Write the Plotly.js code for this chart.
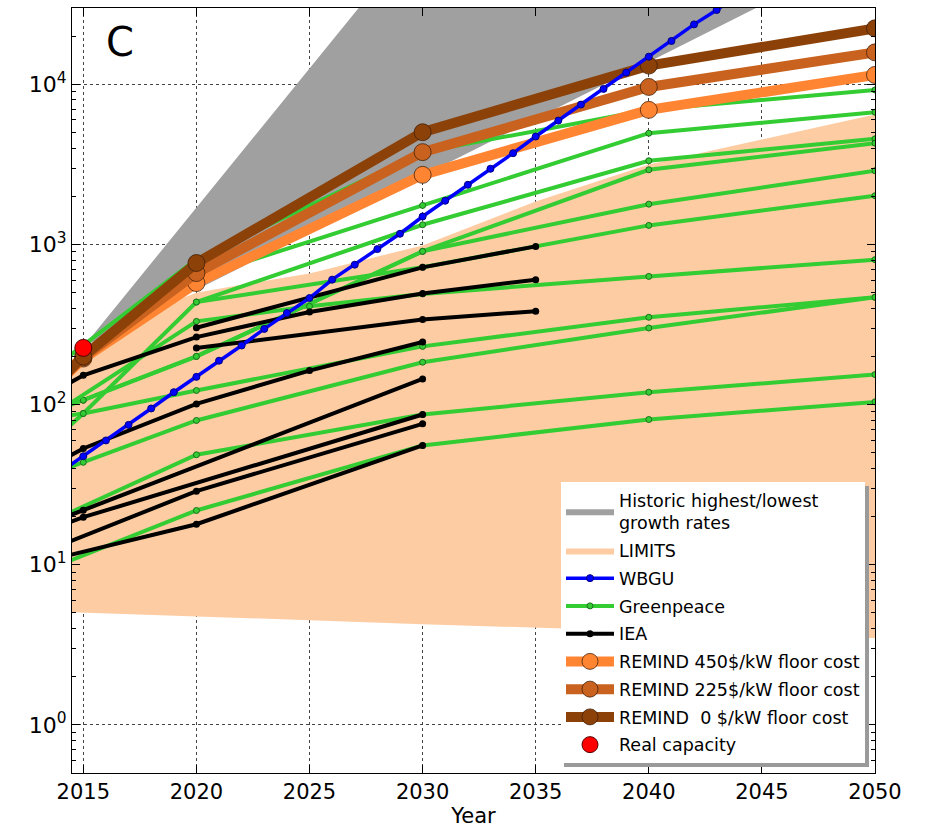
<!DOCTYPE html>
<html><head><meta charset="utf-8">
<script src="https://cdn.plot.ly/plotly-3.0.1.min.js"></script>
<style>html,body{margin:0;padding:0;background:#fff}#chart{width:930px;height:828px}</style>
</head><body><div id="chart"></div>
<script>
// ---------------- data ----------------
const histYears = [2015, 2030, 2050];
const histValues = [230, 93000, 71000];

const limitsYears = [2010, 2015, 2018, 2020, 2022, 2025, 2030, 2035, 2040, 2045, 2050];
const limitsUpper = [150, 200, 390, 500, 560, 660, 987, 1857, 3160, 4530, 6480];
const limitsLower = [5.3, 5.0, 4.85, 4.74, 4.65, 4.5, 4.25, 4.03, 3.85, 3.65, 3.48];

const wbguYears = [2014,2015,2016,2017,2018,2019,2020,2021,2022,2023,2024,2025,2026,2027,2028,2029,2030,2031,2032,2033,2034,2035,2036,2037,2038,2039,2040,2041,2042,2043,2044];
const wbguValues = [38,47.6,59.7,74.7,94.6,119.5,149,188,234,297,373,463,603,748,936,1167,1496,1875,2360,2970,3718,4725,5942,7480,9375,11850,14900,18670,23700,29150,36800];

const gp1Years = [2010, 2020, 2030, 2040, 2050];        const gp1 = [68, 810, 3775, 6934, 9230];
const gp2Years = [2010, 2020, 2030, 2040, 2050];        const gp2 = [60, 620, 1754, 4955, 6700];
const gp3Years = [2010, 2015, 2020, 2030, 2040, 2050];  const gp3 = [20, 88, 437, 1328, 3333, 4570];
const gp4Years = [2020, 2030, 2040, 2050];              const gp4 = [437, 720, 1316, 2015];
const gp5Years = [2010, 2015, 2020, 2030, 2040, 2050];  const gp5 = [57, 106.5, 200, 906, 2930, 4295];
const gp6Years = [2015, 2020, 2030, 2040, 2050];        const gp6 = [106.5, 200, 906, 1786, 2887];
const gp7Years = [2010, 2020, 2025, 2030, 2040, 2050];  const gp7 = [40, 331, 411, 491, 632, 804];
const gp8Years = [2010, 2015, 2020, 2030, 2040, 2050];  const gp8 = [70, 88, 122.5, 231, 351, 468];
const gp9Years = [2010, 2015, 2020, 2030, 2040, 2050];  const gp9 = [24, 43.6, 79.6, 184, 301, 468];
const gp10Years = [2010, 2020, 2030, 2040, 2050];       const gp10 = [11, 48.6, 86.7, 119.5, 154];
const gp11Years = [2010, 2020, 2030, 2040, 2050];       const gp11 = [6, 21.8, 55.6, 80.7, 104];

const iea1Years = [2010, 2015, 2020, 2025, 2030, 2035]; const iea1 = [61, 152.5, 264, 379, 494, 603];
const iea2Years = [2020, 2030, 2035];                   const iea2 = [302, 720, 973];
const iea3Years = [2020, 2030, 2035];                   const iea3 = [226, 340, 383];
const iea4Years = [2010, 2015, 2020, 2025, 2030];       const iea4 = [22, 53.2, 101, 163, 246];
const iea5Years = [2010, 2015, 2030];                   const iea5 = [11.8, 21.9, 144.6];
const iea6Years = [2010, 2015, 2030];                   const iea6 = [11, 19.8, 86.7];
const iea7Years = [2010, 2020, 2030];                   const iea7 = [7.9, 28.8, 75.8];
const iea8Years = [2010, 2020, 2030];                   const iea8 = [8.1, 17.9, 55.6];

const remindYears = [2010, 2015, 2020, 2030, 2040, 2050];
const remind450 = [40, 194, 574, 2723, 6934, 11460];
const remind225 = [40, 197, 663, 3775, 9640, 15850];
const remind0   = [40, 200, 766, 5025, 13100, 22400];

const realYears = [2015];
const realValues = [226];

const xTicks = [2015, 2020, 2025, 2030, 2035, 2040, 2045, 2050];
const yTicks = [1, 10, 100, 1000, 10000];
const yTickText = ['10<sup>0</sup>', '10<sup>1</sup>', '10<sup>2</sup>', '10<sup>3</sup>', '10<sup>4</sup>'];

// ---------------- traces ----------------
const FONT = 'DejaVu Sans, Arial, sans-serif';
const traces = [];

traces.push({
  x: histYears.concat([histYears[0]]), y: histValues.concat([histValues[0]]),
  type: 'scatter', mode: 'lines', fill: 'toself', fillcolor: '#A0A0A0',
  line: {width: 0, color: '#A0A0A0'}, name: 'Historic highest/lowest<br>growth rates',
  legendgroup: 'hist', legendrank: 1, hoverinfo: 'skip'
});
traces.push({
  x: limitsYears.concat(limitsYears.slice().reverse()),
  y: limitsUpper.concat(limitsLower.slice().reverse()),
  type: 'scatter', mode: 'lines', fill: 'toself', fillcolor: '#FDCCA2',
  line: {width: 0, color: '#FDCCA2'}, name: 'LIMITS', legendgroup: 'limits', legendrank: 2, hoverinfo: 'skip'
});

const gpSets = [[gp1Years,gp1],[gp2Years,gp2],[gp3Years,gp3],[gp4Years,gp4],[gp5Years,gp5],[gp6Years,gp6],
  [gp7Years,gp7],[gp8Years,gp8],[gp9Years,gp9],[gp10Years,gp10],[gp11Years,gp11]];
gpSets.forEach((s, i) => traces.push({
  x: s[0], y: s[1], type: 'scatter', mode: 'lines+markers', name: 'Greenpeace',
  legendgroup: 'gp', showlegend: i === 0, legendrank: 4,
  line: {color: '#33CC33', width: 4},
  marker: {size: 6, color: '#33CC33', line: {color: '#1E6E1E', width: 1}}
}));

const ieaSets = [[iea1Years,iea1],[iea2Years,iea2],[iea3Years,iea3],[iea4Years,iea4],
  [iea5Years,iea5],[iea6Years,iea6],[iea7Years,iea7],[iea8Years,iea8]];
ieaSets.forEach((s, i) => traces.push({
  x: s[0], y: s[1], type: 'scatter', mode: 'lines+markers', name: 'IEA',
  legendgroup: 'iea', showlegend: i === 0, legendrank: 5,
  line: {color: '#000000', width: 4},
  marker: {size: 7, color: '#000000'}
}));

const remindSets = [
  [remind450, '#FF8533', 'REMIND 450$/kW floor cost', 6, 'r450'],
  [remind225, '#C8621E', 'REMIND 225$/kW floor cost', 7, 'r225'],
  [remind0, '#8B4108', 'REMIND  0 $/kW floor cost', 8, 'r0']
];
remindSets.forEach(s => traces.push({
  x: remindYears, y: s[0], type: 'scatter', mode: 'lines+markers', name: s[2], legendrank: s[3],
  legendgroup: s[4],
  line: {color: s[1], width: 10},
  marker: {size: 17, color: s[1], line: {color: 'rgba(60,30,10,0.75)', width: 1}}
}));

traces.push({
  x: wbguYears, y: wbguValues, type: 'scatter', mode: 'lines+markers', name: 'WBGU', legendrank: 3,
  legendgroup: 'wbgu',
  line: {color: '#0000FF', width: 3.5},
  marker: {size: 7, color: '#0000FF', line: {color: '#00007A', width: 1}}
});

traces.push({
  x: realYears, y: realValues, type: 'scatter', mode: 'markers', name: 'Real capacity', legendrank: 9,
  legendgroup: 'real',
  marker: {size: 17, color: '#FF0000', line: {color: '#550000', width: 1}}
});

// ---------------- layout ----------------
const minorVals = [];
for (let d = -1; d <= 4; d++) for (let m = 2; m <= 9; m++) minorVals.push(m * Math.pow(10, d));

// legend box (px) for shadow
const plotL = 72, plotW = 803, plotT = 8, plotH = 765;
const lgRight = 865, lgBottom = 763, lgLeft = 560, lgTop = 482, sh = 4;
const px2x = p => (p - plotL) / plotW;
const px2y = p => 1 - (p - plotT) / plotH;

const layout = {
  width: 930, height: 828,
  margin: {l: 72, r: 55, t: 8, b: 55},
  paper_bgcolor: '#FFFFFF', plot_bgcolor: '#FFFFFF',
  font: {family: FONT, color: '#000000', size: 17},
  showlegend: true,
  xaxis: {
    range: [2014.5, 2050], tickmode: 'array', tickvals: xTicks,
    ticks: 'inside', ticklen: 8, tickcolor: '#000', tickwidth: 1,
    showline: true, linecolor: '#000', linewidth: 1, mirror: 'ticks',
    showgrid: true, gridcolor: '#444', griddash: 'dot', gridwidth: 1, zeroline: false,
    tickfont: {size: 21, family: FONT}, title: {text: 'Year', font: {size: 21, family: FONT}, standoff: 8}
  },
  yaxis: {
    type: 'log', range: [Math.log10(0.5), Math.log10(30000)],
    tickmode: 'array', tickvals: yTicks, ticktext: yTickText,
    ticks: 'inside', ticklen: 8, tickcolor: '#000', tickwidth: 1,
    showline: true, linecolor: '#000', linewidth: 1, mirror: 'ticks',
    showgrid: true, gridcolor: '#444', griddash: 'dot', gridwidth: 1, zeroline: false,
    tickfont: {size: 22, family: FONT},
    minor: {tickmode: 'array', tickvals: minorVals, ticks: 'inside', ticklen: 4, tickcolor: '#000', showgrid: false}
  },
  legend: {
    x: px2x(lgRight), y: px2y(lgBottom), xanchor: 'right', yanchor: 'bottom',
    bgcolor: '#FFFFFF', borderwidth: 0, font: {size: 17.5, family: FONT},
    traceorder: 'grouped', tracegroupgap: 2, itemwidth: 48
  },
  shapes: [{
    type: 'rect', xref: 'paper', yref: 'paper', layer: 'above',
    x0: px2x(lgLeft + sh), x1: px2x(lgRight + sh), y0: px2y(lgBottom + sh), y1: px2y(lgTop + sh),
    fillcolor: '#9A9A9A', line: {width: 0}
  }],
  annotations: [{
    text: 'C', xref: 'paper', yref: 'paper', x: px2x(120), y: px2y(42),
    xanchor: 'center', yanchor: 'middle', showarrow: false, font: {size: 40, family: FONT}
  }]
};

Plotly.newPlot('chart', traces, layout, {displayModeBar: false, staticPlot: true});
</script></body></html>
